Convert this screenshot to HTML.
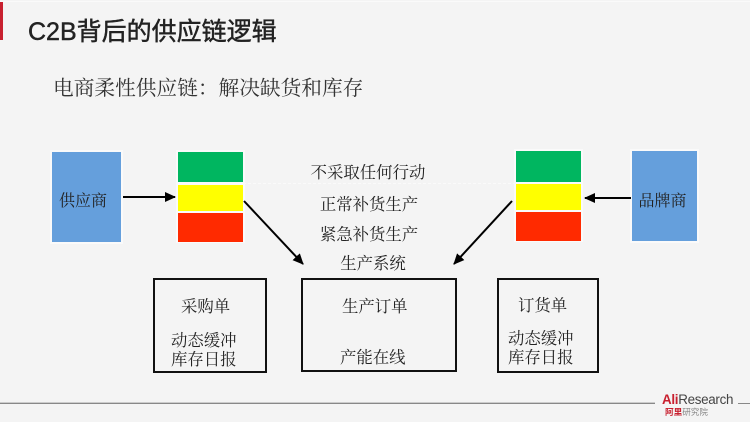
<!DOCTYPE html>
<html><head><meta charset="utf-8">
<style>
html,body{margin:0;padding:0;background:#f4f4f4}
#p{position:relative;width:750px;height:422px;overflow:hidden;background:#f4f4f4}
.b{position:absolute}
.t{position:absolute;white-space:nowrap;font-family:"Liberation Serif","Noto Serif CJK SC",serif;font-size:16.4px;line-height:20px;color:#222;text-align:center}
.box{position:absolute;border:2px solid #111;box-sizing:border-box}
</style></head><body><div id="p">
<div class="b" style="left:0;top:1px;width:750px;height:1px;background:#fafafa"></div>
<div class="b" style="left:0;top:2px;width:3px;height:38px;background:#c8202f"></div>
<div class="t" style="left:28px;top:15px;font-family:'Liberation Sans','Noto Sans CJK SC',sans-serif;font-size:25px;line-height:34px;color:#222;letter-spacing:0;-webkit-text-stroke:.45px #222">C2B背后的供应链逻辑</div>
<div class="t" style="left:53px;top:77px;font-size:20.7px;line-height:24px;color:#333">电商柔性供应链：解决缺货和库存</div>

<div class="b" style="left:50px;top:150px;width:73px;height:94px;background:#fafafa"></div>
<div class="b" style="left:52px;top:152px;width:69px;height:90px;background:#659fdc"></div>
<div class="t" style="left:52px;top:192px;width:62px;font-size:16px">供应商</div>

<div class="b" style="left:176px;top:150px;width:69px;height:93px;background:#fafafa"></div>
<div class="b" style="left:178px;top:152px;width:65px;height:30px;background:#00b660"></div>
<div class="b" style="left:178px;top:185px;width:65px;height:26px;background:#ffff00"></div>
<div class="b" style="left:178px;top:213px;width:65px;height:29px;background:#ff2a00"></div>

<div class="b" style="left:514px;top:149px;width:69px;height:93px;background:#fafafa"></div>
<div class="b" style="left:516px;top:151px;width:65px;height:31px;background:#00b660"></div>
<div class="b" style="left:516px;top:184px;width:65px;height:26px;background:#ffff00"></div>
<div class="b" style="left:516px;top:212px;width:65px;height:29px;background:#ff2a00"></div>

<div class="b" style="left:630px;top:149px;width:69px;height:94px;background:#fafafa"></div>
<div class="b" style="left:632px;top:151px;width:65px;height:90px;background:#659fdc"></div>
<div class="t" style="left:632px;top:192px;width:61px;font-size:16px">品牌商</div>

<div class="b" style="left:243px;top:183px;width:273px;border-top:1px dashed #fafafa"></div>

<svg class="b" style="left:0;top:0" width="750" height="422">
<defs><marker id="a" markerWidth="6" markerHeight="6" refX="5" refY="3" orient="auto" markerUnits="strokeWidth"><path d="M0 .5L5.5 3L0 5.5Z" fill="#000"/></marker></defs>
<g stroke="#000" stroke-width="2" fill="none">
<line x1="123" y1="197" x2="175" y2="197" marker-end="url(#a)"/>
<line x1="244" y1="201" x2="303" y2="264" marker-end="url(#a)"/>
<line x1="512" y1="201" x2="454" y2="264" marker-end="url(#a)"/>
<line x1="631" y1="198" x2="585" y2="198" marker-end="url(#a)"/>
</g></svg>

<div class="t" style="left:268px;top:163px;width:200px">不采取任何行动</div>
<div class="t" style="left:269px;top:195px;width:200px">正常补货生产</div>
<div class="t" style="left:269px;top:225px;width:200px">紧急补货生产</div>
<div class="t" style="left:273px;top:254px;width:200px">生产系统</div>

<div class="box" style="left:153px;top:278px;width:114px;height:95px"></div>
<div class="t" style="left:181px;top:297px">采购单</div>
<div class="t" style="left:171px;top:331px">动态缓冲</div>
<div class="t" style="left:171px;top:350px">库存日报</div>

<div class="box" style="left:301px;top:278px;width:156px;height:94px"></div>
<div class="t" style="left:342px;top:297px">生产订单</div>
<div class="t" style="left:340px;top:348px">产能在线</div>

<div class="box" style="left:497px;top:278px;width:102px;height:95px"></div>
<div class="t" style="left:518px;top:296px">订货单</div>
<div class="t" style="left:508px;top:329px">动态缓冲</div>
<div class="t" style="left:508px;top:348px">库存日报</div>

<div class="b" style="left:0;top:403px;width:655px;height:1px;background:#888"></div>
<div class="b" style="left:0;top:402px;width:655px;height:1px;background:#ccc"></div>
<div class="b" style="left:738px;top:403px;width:12px;height:1px;background:#888"></div>
<div class="t" style="left:662px;top:392px;font-family:'Liberation Sans',sans-serif;font-size:13.4px;line-height:16px;color:#444;letter-spacing:-.3px"><span style="color:#c8202f;font-weight:bold">Ali</span>Research</div>
<div class="t" style="left:665px;top:407px;font-family:'Liberation Sans','Noto Sans CJK SC',sans-serif;font-size:8.6px;line-height:10px;color:#888"><span style="color:#c8202f;font-weight:bold">阿里</span>研究院</div>
</div></body></html>
